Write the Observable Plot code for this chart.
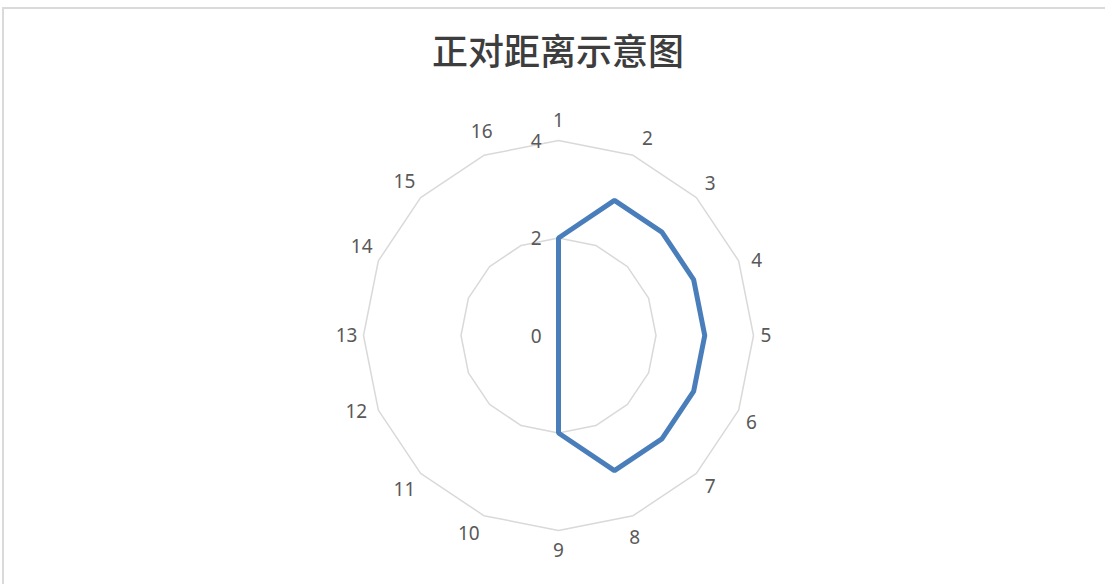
<!DOCTYPE html>
<html>
<head>
<meta charset="utf-8">
<script src="https://cdn.jsdelivr.net/npm/d3@7"></script>
<script src="https://cdn.jsdelivr.net/npm/@observablehq/plot@0.6"></script>
<style>
  html, body { margin: 0; padding: 0; background: #fff; overflow: hidden; }
  #wrap { position: relative; width: 1105px; height: 584px; overflow: hidden; }
  #frame { position: absolute; left: 2px; top: 7px; width: 1300px; height: 700px;
           border-top: 2px solid #dadada; border-left: 2px solid #dadada; }
  #title { position: absolute; left: 0; width: 1116px; top: 24px; text-align: center;
           font-family: "Noto Sans CJK SC", sans-serif; font-size: 36px; font-weight: 500;
           color: #3d3d3d; line-height: 50px; }
  #chart { position: absolute; left: 0; top: 0; }
</style>
</head>
<body>
<div id="wrap">
  <div id="frame"></div>
  <div id="chart"></div>
  <div id="title">正对距离示意图</div>
</div>
<script>
// ---- data ----
const categories = ["1","2","3","4","5","6","7","8","9","10","11","12","13","14","15","16"];
const values = [2, 3, 3, 3, 3, 3, 3, 3, 2, 0, 0, 0, 0, 0, 0, 0];
const radialTicks = [0, 2, 4];
const gridLevels = [2, 4];

// ---- layout ----
const W = 1105, H = 584;
const cx = 558, cy = 335;       // centre in pixels
const pxPerUnit = 195 / 4;      // radius of 4 -> 195px

const n = categories.length;
const ang = i => i * 2 * Math.PI / n;
const px = (i, v) => v * Math.sin(ang(i));
const py = (i, v) => v * Math.cos(ang(i));

const series = categories.map((c, i) => ({c, i, v: values[i]}));
const grid = gridLevels.flatMap(level => categories.map((c, i) => ({level, i})));

// category labels placed just outside the outer ring (Excel-like placement)
const labelData = categories.map((c, i) => {
  const a = ang(i), s = Math.sin(a), co = Math.cos(a);
  const rpx = 203 + 4.5 * c.length * Math.abs(s) + 12 * Math.abs(co);
  const t = 7 * Math.abs(Math.sin(4 * a));          // small clockwise nudge
  const xpx = rpx * s + t * co;
  const ypx = rpx * co - t * s;
  return {c, x: xpx / pxPerUnit, y: ypx / pxPerUnit};
});

const xDomain = [-cx / pxPerUnit, (W - cx) / pxPerUnit];
const yDomain = [-(H - cy) / pxPerUnit, cy / pxPerUnit];

const chart = Plot.plot({
  width: W, height: H,
  margin: 0,
  x: {domain: xDomain, range: [0, W], axis: null},
  y: {domain: yDomain, range: [H, 0], axis: null},
  style: {fontFamily: "'Noto Sans', sans-serif", background: "transparent"},
  marks: [
    Plot.line(grid, {
      x: d => px(d.i, d.level), y: d => py(d.i, d.level), z: "level",
      curve: "linear-closed", stroke: "#d9d9d9", strokeWidth: 1.5
    }),
    Plot.text(radialTicks, {
      x: -17 / pxPerUnit, y: d => d, dy: 1, text: d => String(d),
      textAnchor: "end", fontSize: 19, fill: "#595959"
    }),
    Plot.text(labelData, {
      x: "x", y: "y", text: "c", fontSize: 19, fill: "#595959"
    }),
    Plot.line(series, {
      x: d => px(d.i, d.v), y: d => py(d.i, d.v),
      curve: "linear-closed", stroke: "#4a7ebb", strokeWidth: 5, strokeLinejoin: "miter"
    })
  ]
});
document.getElementById("chart").appendChild(chart);
</script>
</body>
</html>
